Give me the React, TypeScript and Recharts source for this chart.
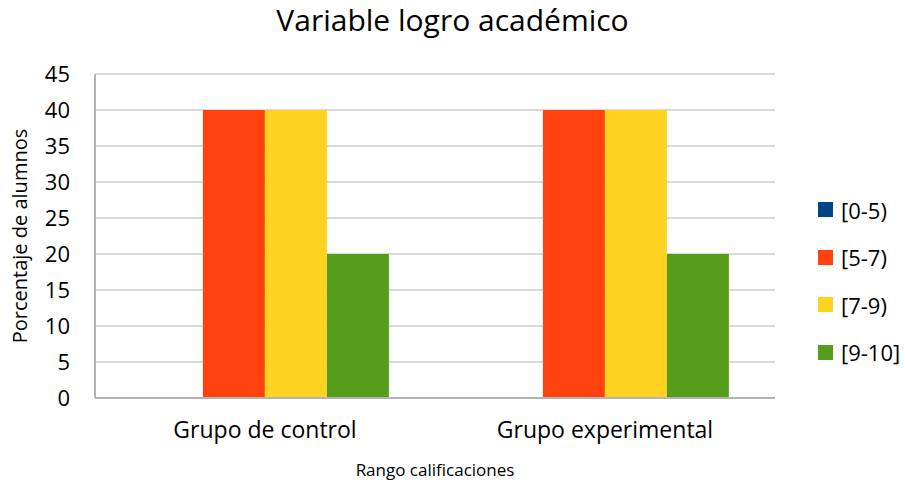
import React from "react";
import { BarChart, Bar, XAxis, YAxis, CartesianGrid, Legend, Label } from "recharts";

const groups = ["Grupo de control", "Grupo experimental"];
const ranges = ["[0-5)", "[5-7)", "[7-9)", "[9-10]"];
const r0_5 = [0, 0];
const r5_7 = [40, 40];
const r7_9 = [40, 40];
const r9_10 = [20, 20];
const yTicks = [0, 5, 10, 15, 20, 25, 30, 35, 40, 45];

const colors = ["#004586", "#ff420e", "#ffd320", "#579d1c"];
const FONT = "'Open Sans', sans-serif";

const data = groups.map((g, i) => ({
  name: g,
  [ranges[0]]: r0_5[i],
  [ranges[1]]: r5_7[i],
  [ranges[2]]: r7_9[i],
  [ranges[3]]: r9_10[i],
}));

const LegendBox = () => (
  <div style={{ width: 130, paddingLeft: 43, boxSizing: "border-box", fontFamily: FONT, whiteSpace: "nowrap" }}>
    {ranges.map((r, i) => (
      <div key={r} style={{ display: "flex", alignItems: "center", height: 47.5 }}>
        <span style={{ width: 15, height: 15, background: colors[i], display: "inline-block", marginRight: 8, flexShrink: 0 }} />
        <span style={{ fontSize: 22, color: "#000" }}>{r}</span>
      </div>
    ))}
  </div>
);

export default function App() {
  return (
    <div style={{ position: "absolute", left: 0, top: 0, width: 905, height: 484, background: "#fff" }}>
      <div
        style={{
          position: "absolute",
          top: -1,
          width: 905,
          textAlign: "center",
          fontFamily: FONT,
          fontSize: 30,
          color: "#000",
        }}
      >
        Variable logro académico
      </div>
      <BarChart
        width={905}
        height={484}
        data={data}
        margin={{ top: 74, right: 0, left: 0, bottom: 0 }}
        barCategoryGap="13.5%"
        barGap={0}
      >
        <CartesianGrid yAxisId="left" vertical={false} stroke="#b3b3b3" />
        <XAxis
          dataKey="name"
          height={86}
          axisLine={{ stroke: "#b3b3b3", strokeWidth: 2 }}
          tickLine={false}
          tickSize={0}
          tickMargin={24}
          tick={{ fill: "#000", fontSize: 23, fontFamily: FONT }}
        >
          <Label
            value="Rango calificaciones"
            position="insideBottom"
            offset={8}
            style={{ fill: "#000", fontSize: 17, fontFamily: FONT }}
          />
        </XAxis>
        <XAxis xAxisId="top" orientation="top" dataKey="name" height={0} tick={false} tickLine={false} axisLine={{ stroke: "#b3b3b3", strokeWidth: 2 }} />
        <YAxis
          yAxisId="left"
          width={95}
          domain={[0, 45]}
          ticks={yTicks}
          interval={0}
          axisLine={{ stroke: "#b3b3b3", strokeWidth: 2 }}
          tickLine={false}
          tickSize={0}
          tickMargin={25}
          tick={{ fill: "#000", fontSize: 22, fontFamily: FONT }}
        >
          <Label
            value="Porcentaje de alumnos"
            angle={-90}
            position="insideLeft"
            offset={20}
            style={{ textAnchor: "middle", fill: "#000", fontSize: 20, fontFamily: FONT }}
          />
        </YAxis>
        <YAxis yAxisId="right" orientation="right" width={0} domain={[0, 45]} tick={false} tickLine={false} axisLine={{ stroke: "#b3b3b3", strokeWidth: 2 }} />
        <Legend layout="vertical" align="right" verticalAlign="top" wrapperStyle={{ top: 186 }} content={<LegendBox />} />
        {ranges.map((r, i) => (
          <Bar key={r} yAxisId="left" dataKey={r} fill={colors[i]} isAnimationActive={false} />
        ))}
      </BarChart>
    </div>
  );
}
